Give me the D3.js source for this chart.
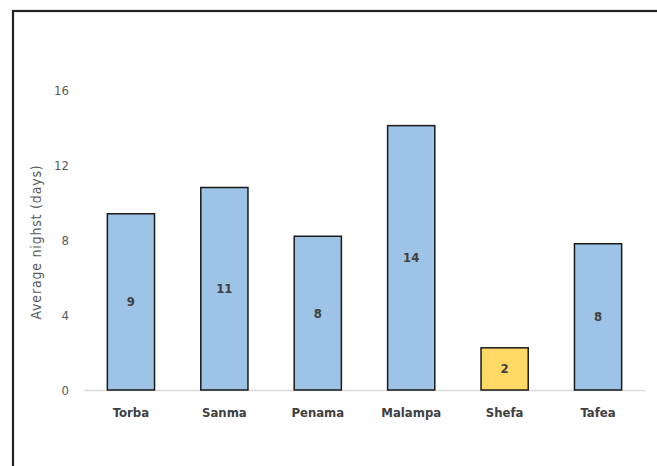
<!DOCTYPE html>
<html><head><meta charset="utf-8">
<script src="https://cdn.jsdelivr.net/npm/d3@7"></script>
<style>body{margin:0;background:#fff;}svg{display:block;}</style>
</head><body>
<svg id="c" width="657" height="466"></svg>
<script>
const categories = ["Torba","Sanma","Penama","Malampa","Shefa","Tafea"];
const values = [9.4, 10.8, 8.2, 14.1, 2.25, 7.8];
const labels = ["9","11","8","14","2","8"];
const highlight = ["Shefa"];
const yTicks = [0,4,8,12,16];

const svg = d3.select("#c");
const font = "'DejaVu Sans Condensed','Liberation Sans Narrow','Open Sans',sans-serif";
// frame
svg.append("rect").attr("x",13).attr("y",11).attr("width",700).attr("height",500)
  .attr("fill","none").attr("stroke","#222").attr("stroke-width",2.2);

const x = d3.scaleBand().domain(categories).range([84,645]).paddingInner(0.495).paddingOuter(0.25);
const y = d3.scaleLinear().domain([0,16]).range([390,90]);

// y tick labels
const ya = svg.append("g").attr("transform","translate(69,0)")
  .call(d3.axisLeft(y).tickValues(yTicks).tickSize(0).tickPadding(0));
ya.select(".domain").remove();
ya.selectAll("text").attr("font-family",font).attr("font-size",13).attr("fill","#595959");

// x axis
const xa = svg.append("g").attr("transform","translate(0,390)")
  .call(d3.axisBottom(x).tickSize(0).tickPadding(18));
xa.select(".domain").attr("stroke","#d9d9d9").attr("stroke-width",1.5);
xa.selectAll("text").attr("font-family",font).attr("font-size",13).attr("font-weight","bold").attr("fill","#404040");

// bars
svg.append("g").selectAll("rect").data(categories).join("rect")
  .attr("x",d=>x(d)).attr("width",x.bandwidth())
  .attr("y",(d,i)=>y(values[i])).attr("height",(d,i)=>y(0)-y(values[i]))
  .attr("fill",d=>highlight.includes(d)?"#FFD966":"#9DC3E6")
  .attr("stroke","#1a1a1a").attr("stroke-width",1.5);

// data labels
svg.append("g").selectAll("text").data(categories).join("text")
  .attr("x",d=>x(d)+x.bandwidth()/2)
  .attr("y",(d,i)=>(y(values[i])+y(0))/2)
  .attr("dy","0.35em").attr("text-anchor","middle")
  .attr("font-family",font).attr("font-size",13).attr("font-weight","bold").attr("fill","#404040")
  .text((d,i)=>labels[i]);

// y title
svg.append("text").attr("transform","translate(41,242) rotate(-90)")
  .attr("text-anchor","middle").attr("font-family",font).attr("font-size",14)
  .attr("letter-spacing","0.8").attr("fill","#595959")
  .text("Average nighst (days)");
</script>
</body></html>
